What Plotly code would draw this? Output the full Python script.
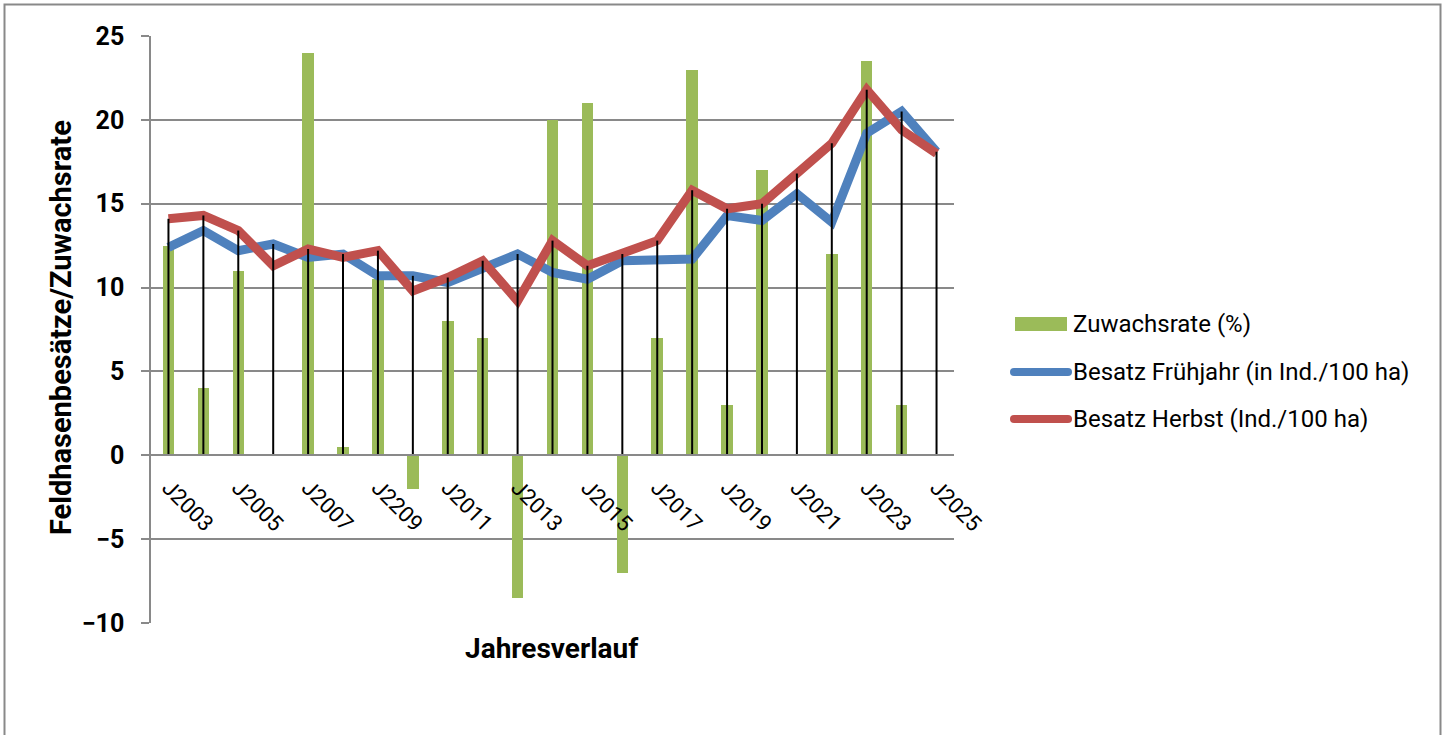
import plotly.graph_objects as go

# ---- data ----
categories = ["J2003", "J2004", "J2005", "J2006", "J2007", "J2008", "J2209", "J2010",
              "J2011", "J2012", "J2013", "J2014", "J2015", "J2016", "J2017", "J2018",
              "J2019", "J2020", "J2021", "J2022", "J2023", "J2024", "J2025"]
tick_labels = ["J2003", "J2005", "J2007", "J2209", "J2011", "J2013", "J2015",
               "J2017", "J2019", "J2021", "J2023", "J2025"]
zuwachsrate = [12.5, 4, 11, 0, 24, 0.5, 10.5, -2, 8, 7, -8.5, 20, 21, -7, 7, 23,
               3, 17, 0, 12, 23.5, 3, 0]
besatz_fruehjahr = [12.4, 13.4, 12.2, 12.6, 11.8, 12.0, 10.7, 10.7, 10.3, 11.2, 12.0, 10.9,
                    10.5, 11.6, 11.6, 11.7, 14.3, 14.0, 15.6, 13.9, 19.2, 20.5, 18.1]
besatz_herbst = [14.1, 14.3, 13.4, 11.3, 12.3, 11.8, 12.2, 9.8, 10.6, 11.6, 9.2, 12.8,
                 11.3, 12.0, 12.8, 15.8, 14.7, 15.0, 16.8, 18.6, 21.8, 19.4, 18.0]

GREEN = "#9BBB59"
BLUE = "#4F81BD"
RED = "#C0504D"
GRID = "#898989"

W, H = 1447, 735
# plot area in pixels
L, R, T, B = 151, 954, 36, 623


def px(x):
    return (x - L) / (R - L)


def py(y):
    return (B - y) / (B - T)


fig = go.Figure()

fig.add_trace(go.Bar(x=categories, y=zuwachsrate, name="Zuwachsrate (%)",
                     marker=dict(color=GREEN, line=dict(width=0)), width=0.33,
                     showlegend=False))
fig.add_trace(go.Scatter(x=categories, y=besatz_fruehjahr, mode="lines",
                         name="Besatz Frühjahr (in Ind./100 ha)",
                         line=dict(color=BLUE, width=9), showlegend=False))
fig.add_trace(go.Scatter(x=categories, y=besatz_herbst, mode="lines",
                         name="Besatz Herbst (Ind./100 ha)",
                         line=dict(color=RED, width=9), showlegend=False))

# drop lines from highest line point to the category axis
drop_x, drop_y = [], []
for c, a, b in zip(categories, besatz_fruehjahr, besatz_herbst):
    drop_x += [c, c, None]
    drop_y += [0, max(a, b), None]
fig.add_trace(go.Scatter(x=drop_x, y=drop_y, mode="lines",
                         line=dict(color="black", width=2), showlegend=False,
                         hoverinfo="skip"))

fig.update_layout(
    width=W, height=H,
    margin=dict(l=L, r=W - R, t=T, b=H - B),
    plot_bgcolor="white", paper_bgcolor="white",
    font=dict(family="Roboto", color="black"),
    bargap=0,
    showlegend=False,
)

fig.update_xaxes(
    type="category", range=[-0.5, 22.5],
    tickmode="array", tickvals=tick_labels, ticktext=tick_labels,
    tickangle=45, tickfont=dict(family="Roboto", size=22, color="black"),
    ticklabelstandoff=10,
    showgrid=False, ticks="", showline=True, linecolor=GRID, linewidth=1.5,
    anchor="free", position=10 / 35,
)
fig.update_yaxes(
    range=[-10, 25], dtick=5, tick0=0,
    showgrid=True, gridcolor=GRID, gridwidth=1.5,
    zeroline=True, zerolinecolor=GRID, zerolinewidth=1.5,
    showline=True, linecolor=GRID, linewidth=1.5,
    ticks="outside", ticklen=8, tickcolor=GRID, tickwidth=1.5,
    tickfont=dict(family="Roboto", size=25, color="black", weight="bold"),
    ticklabelstandoff=12,
)

# axis titles
fig.add_annotation(x=px(61), y=py(328), xref="paper", yref="paper",
                   text="<b>Feldhasenbesätze/Zuwachsrate</b>", textangle=-90,
                   showarrow=False, xanchor="center", yanchor="middle",
                   font=dict(family="Roboto", size=29, color="black"))
fig.add_annotation(x=px(552), y=py(648), xref="paper", yref="paper",
                   text="<b>Jahresverlauf</b>", showarrow=False,
                   xanchor="center", yanchor="middle",
                   font=dict(family="Roboto", size=28, color="black"))

# outer chart border
fig.add_shape(type="rect", xref="paper", yref="paper",
              x0=px(4.5), x1=px(1440.5), y0=py(760), y1=py(4.5),
              line=dict(color=GRID, width=2), fillcolor="rgba(0,0,0,0)", layer="below")

# custom legend
legend_items = [("Zuwachsrate (%)", GREEN, "bar", 324),
                ("Besatz Frühjahr (in Ind./100 ha)", BLUE, "line", 372),
                ("Besatz Herbst (Ind./100 ha)", RED, "line", 419)]
for text, color, kind, yc in legend_items:
    if kind == "bar":
        fig.add_shape(type="rect", xref="paper", yref="paper",
                      x0=px(1015), x1=px(1067), y0=py(yc + 7), y1=py(yc - 7),
                      fillcolor=color, line=dict(width=0))
    else:
        fig.add_shape(type="line", xref="paper", yref="paper",
                      x0=px(1014), x1=px(1068), y0=py(yc), y1=py(yc),
                      line=dict(color=color, width=8))
        for cx in (1014, 1068):
            fig.add_shape(type="circle", xref="paper", yref="paper",
                          x0=px(cx - 4), x1=px(cx + 4), y0=py(yc + 4), y1=py(yc - 4),
                          fillcolor=color, line=dict(width=0))
    fig.add_annotation(x=px(1071), y=py(yc), xref="paper", yref="paper",
                       text=text, showarrow=False, xanchor="left", yanchor="middle",
                       font=dict(family="Roboto", size=24, color="black"))

fig.write_html("out.html", config={"displayModeBar": False},
               post_script="document.body.style.margin='0';document.body.style.overflow='hidden';")
